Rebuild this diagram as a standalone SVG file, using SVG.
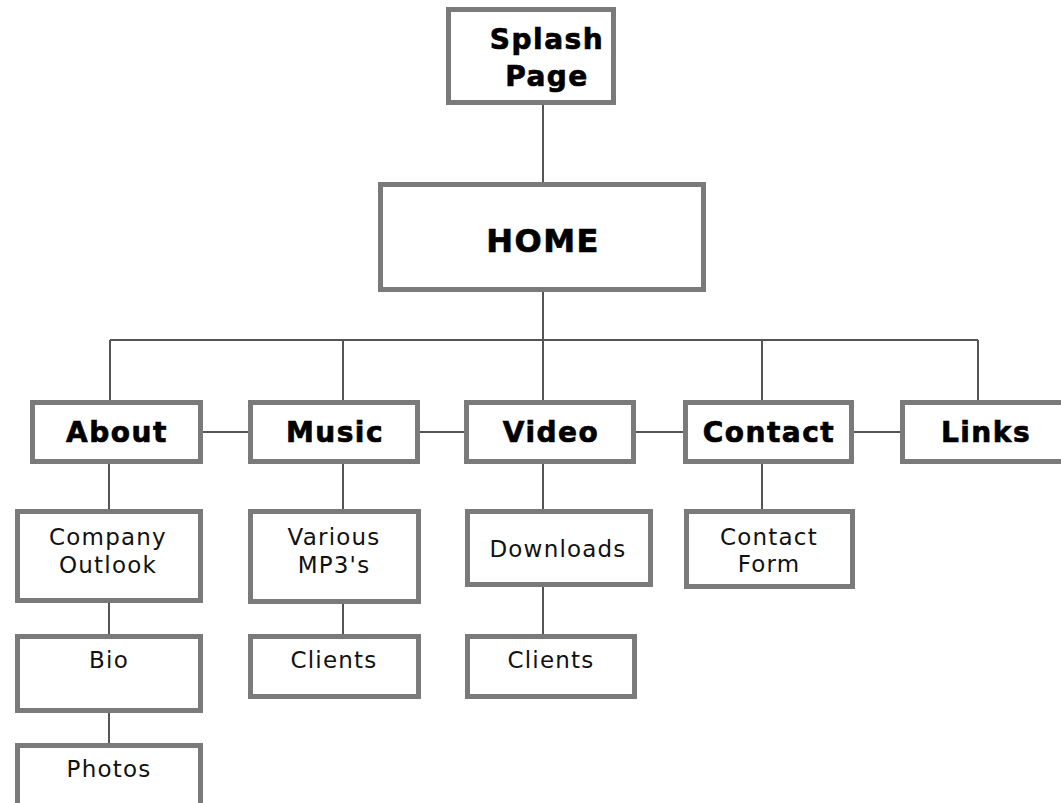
<svg xmlns="http://www.w3.org/2000/svg" width="1061" height="803" viewBox="0 0 1061 803">
<style>
.box{fill:#fff;stroke:#7a7a7a;stroke-width:5}
.c{stroke:#555;stroke-width:2;fill:none}
.b{font-family:"DejaVu Sans",Verdana,sans-serif;font-weight:bold;fill:#000;stroke:#000;stroke-width:0.7;text-anchor:middle;letter-spacing:1.5px}
.r{font-family:"DejaVu Sans",Verdana,sans-serif;font-size:23px;fill:#111;text-anchor:middle;letter-spacing:1.2px}
</style>
<rect width="1061" height="803" fill="#fff"/>
<g id="connectors">
<path class="c" d="M543 105V182M543 292V340M110 340H978M110 340V400M343 340V400M543 340V400M762 340V400M978 340V400"/>
<path class="c" d="M203 432H248M420 432H464M636 432H683M854 432H900"/>
<path class="c" d="M109 464V509M109 603V634M109 713V743M343 464V509M343 604V634M543 464V509M543 587V634M762 464V509"/>
</g>
<g id="splash"><rect class="box" x="448.5" y="9.5" width="165" height="93"/><text class="b" font-size="28" x="547" y="49">Splash</text><text class="b" font-size="28" x="547" y="86">Page</text></g>
<g id="home"><rect class="box" x="380.5" y="184.5" width="323" height="105"/><text class="b" font-size="32" x="543" y="252">HOME</text></g>
<g id="about"><rect class="box" x="32.5" y="402.5" width="168" height="59"/><text class="b" font-size="28" x="117" y="442">About</text></g>
<g id="music"><rect class="box" x="250.5" y="402.5" width="167" height="59"/><text class="b" font-size="28" x="335" y="442">Music</text></g>
<g id="video"><rect class="box" x="466.5" y="402.5" width="167" height="59"/><text class="b" font-size="28" x="551" y="442">Video</text></g>
<g id="contact"><rect class="box" x="685.5" y="402.5" width="166" height="59"/><text class="b" font-size="28" x="769" y="442">Contact</text></g>
<g id="links"><rect class="box" x="902.5" y="402.5" width="167" height="59"/><text class="b" font-size="28" x="986" y="442">Links</text></g>
<g id="company-outlook"><rect class="box" x="17.5" y="511.5" width="183" height="89"/><text class="r" x="108" y="545">Company</text><text class="r" x="108" y="573">Outlook</text></g>
<g id="bio"><rect class="box" x="17.5" y="636.5" width="183" height="74"/><text class="r" x="109" y="668">Bio</text></g>
<g id="photos"><rect class="box" x="17.5" y="745.5" width="183" height="70"/><text class="r" x="109" y="777">Photos</text></g>
<g id="various-mp3s"><rect class="box" x="250.5" y="511.5" width="168" height="90"/><text class="r" x="334" y="545">Various</text><text class="r" x="334" y="573">MP3's</text></g>
<g id="clients-music"><rect class="box" x="250.5" y="636.5" width="168" height="60"/><text class="r" x="334" y="668">Clients</text></g>
<g id="downloads"><rect class="box" x="467.5" y="511.5" width="183" height="73"/><text class="r" x="558" y="557">Downloads</text></g>
<g id="clients-video"><rect class="box" x="467.5" y="636.5" width="167" height="60"/><text class="r" x="551" y="668">Clients</text></g>
<g id="contact-form"><rect class="box" x="686.5" y="511.5" width="166" height="75"/><text class="r" x="769" y="545">Contact</text><text class="r" x="769" y="572">Form</text></g>
</svg>
